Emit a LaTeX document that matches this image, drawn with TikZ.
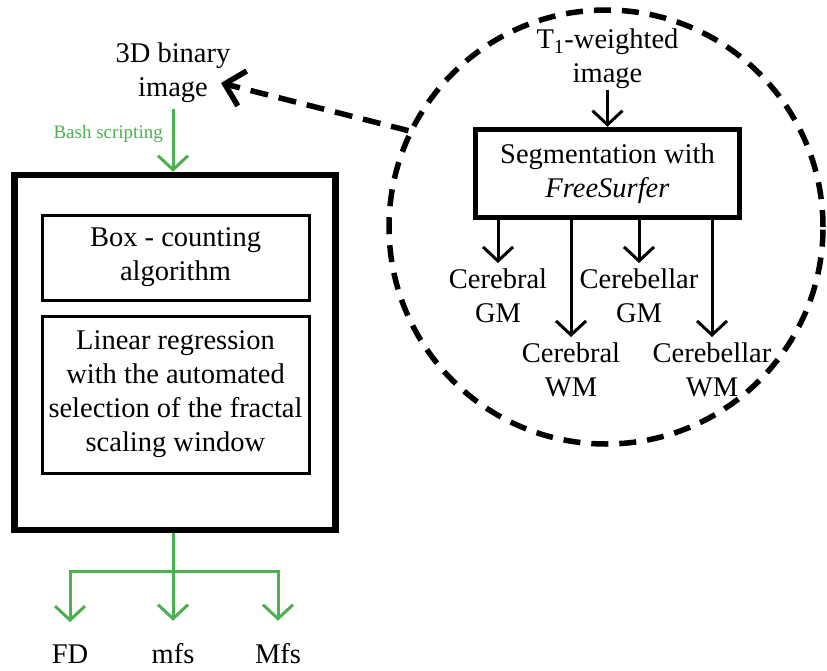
\documentclass[tikz,border=0pt]{standalone}
\usepackage{fontspec}
\setmainfont{Liberation Serif}
\usetikzlibrary{arrows.meta}
\definecolor{scriptgreen}{RGB}{76,175,80}
\begin{document}
\begin{tikzpicture}[x=1pt,y=-1pt,
  txt/.style={font=\fontsize{28.5}{34}\selectfont, align=center},
  lab/.style={txt, anchor=north, inner xsep=0pt, inner ysep=6pt},
  outlab/.style={txt, anchor=base, inner sep=2pt},
  box/.style={txt, draw, line width=3pt, inner sep=0pt},
  tarrow/.style={line width=3pt, -{Straight Barb[length=14pt, width=30pt]}},
  gline/.style={draw=scriptgreen, line width=3pt},
  garrow/.style={gline, -{Straight Barb[length=14pt, width=30pt]}},
  dasharrow/.style={line width=5.5pt, dash pattern=on 18pt off 11pt,
    -{Straight Barb[length=18pt, width=36pt]}}]
\useasboundingbox (0,0) rectangle (827,670);

% ---- segmentation stage, inside the dashed circle ----
\node[circle, draw, line width=5.5pt, dash pattern=on 17pt off 11pt,
      minimum size=434pt, inner sep=0pt] (circ) at (606,227) {};
\node[txt, inner ysep=1pt] (t1) at (607.5,59) {T\textsubscript{1}-weighted\\image};
\node[txt, draw, line width=5.5pt, minimum width=264pt, minimum height=88pt,
      inner sep=0pt] (seg) at (607.5,173.5) {Segmentation with\\\textit{FreeSurfer}};
\draw[tarrow] (t1.south) -- (seg.north);

\node[lab] (cgm) at (498,263) {Cerebral\\GM};
\node[lab] (cwm) at (571,337) {Cerebral\\WM};
\node[lab] (bgm) at (639,263) {Cerebellar\\GM};
\node[lab] (bwm) at (712,337) {Cerebellar\\WM};
\foreach \n in {cgm,cwm,bgm,bwm}
  \draw[tarrow] (seg.south -| \n.north) -- (\n.north);

% ---- fractal analysis stage ----
\node[txt, inner ysep=6pt] (bin) at (173,73) {3D binary\\image};
\coordinate (bintip) at (221,83);
\draw[dasharrow] (circ.154.6) -- (bintip);

\node[font=\fontsize{19}{22}\selectfont, text=scriptgreen, anchor=base east,
      inner sep=0pt] (bash) at (163,138) {Bash scripting};
\node[draw, line width=6.5pt, minimum width=321pt, minimum height=355pt]
      (outer) at (175,352.5) {};
\draw[garrow] (bin.south) -- (bin.south |- outer.north);

\node[box, minimum width=267pt, minimum height=85pt] (count) at (175.5,257.5)
      {Box - counting\\algorithm};
\node[box, minimum width=267pt, minimum height=157pt] (regr) at (175.5,394.5)
      {Linear regression\\with the automated\\selection of the fractal\\scaling window};

% ---- outputs ----
\coordinate (split) at (173,571);
\node[outlab] (fd) at (70,663) {FD};
\node[outlab] (mfs) at (173,663) {mfs};
\node[outlab] (mfsu) at (278,663) {Mfs};
\draw[gline] (split |- outer.south) -- (split);
\draw[garrow, shorten >=20pt] (split) -| (fd.north);
\draw[garrow, shorten >=20pt] (split) -- (mfs.north);
\draw[garrow, shorten >=20pt] (split) -| (mfsu.north);
\end{tikzpicture}
\end{document}
